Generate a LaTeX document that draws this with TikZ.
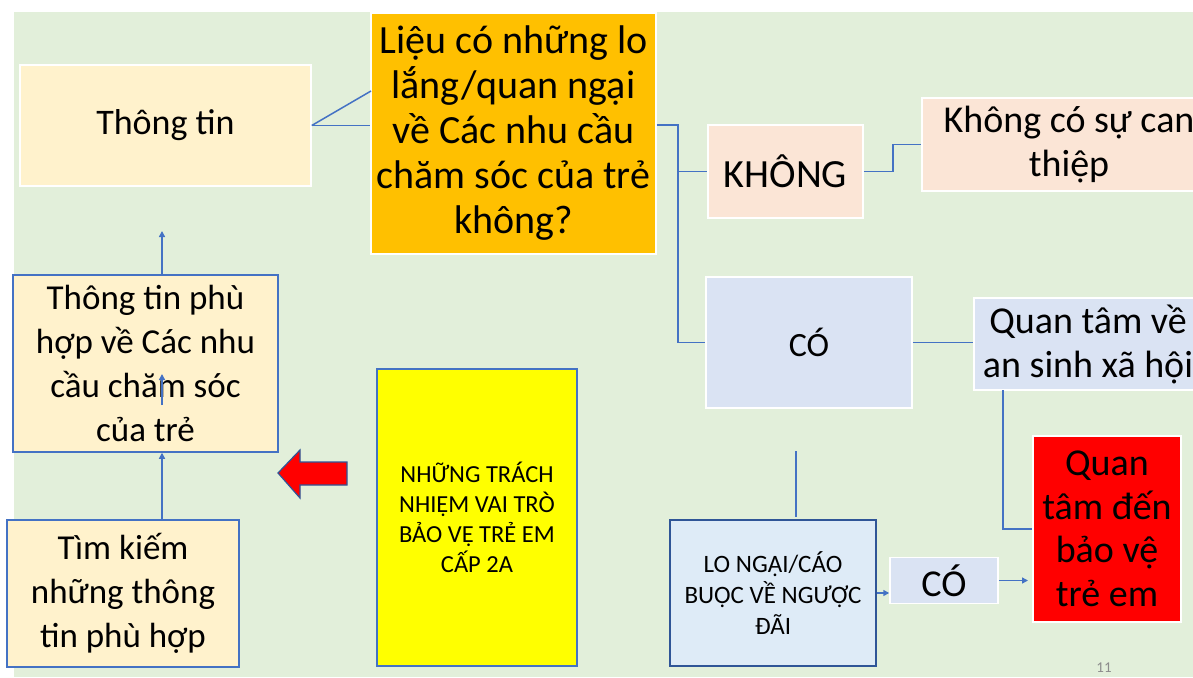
\documentclass[tikz,border=0pt]{standalone}
\usepackage{fontspec}
\setmainfont{Carlito}
\usetikzlibrary{arrows.meta}
\definecolor{bggreen}{HTML}{E2EFDA}
\definecolor{cream}{HTML}{FFF2CC}
\definecolor{orangeb}{HTML}{FFC000}
\definecolor{peach}{HTML}{FBE5D6}
\definecolor{lblue}{HTML}{DAE3F3}
\definecolor{lblue2}{HTML}{DEEBF7}
\definecolor{connblue}{HTML}{4472C4}
\definecolor{darkblue}{HTML}{2F5597}
\definecolor{pagegray}{HTML}{8C8C8C}
\definecolor{pureyellow}{HTML}{FFFF00}
\begin{document}
\begin{tikzpicture}[x=1pt,y=-1pt,
  box/.style={rectangle, inner sep=0pt, align=center, draw=white, line width=1.5pt, text=black},
  bluebox/.style={box, draw=connblue},
  conn/.style={draw=connblue, line width=1.5pt},
  arr/.style={conn, -{Triangle[length=6pt,width=6pt]}},
  big/.style={font={\fontsize{40}{45}\selectfont}},
  mid/.style={font={\fontsize{36}{44}\selectfont}}]
\useasboundingbox (0,0) rectangle (1193,677);
\clip (0,0) rectangle (1193,677);
\fill[bggreen] (14,12) rectangle (1193,677);

% nodes
\node[box, fill=cream, minimum width=291pt, minimum height=121pt, mid] (thongtin) at (165.5,125.5) {Thông tin};
\node[box, fill=orangeb, minimum width=285pt, minimum height=241pt, big] (orange) at (513.5,133.5) {Liệu có những lo\\lắng/quan ngại\\về Các nhu cầu\\chăm sóc của trẻ\\không?};
\node[box, fill=peach, minimum width=155pt, minimum height=93pt, big] (khong) at (785.5,171.5) {KHÔNG};
\node[box, fill=peach, minimum width=294pt, minimum height=93pt, font={\fontsize{38}{44}\selectfont}] (khongco) at (1069,144.5) {Không có sự can\\thiệp};
\node[box, fill=lblue, minimum width=206pt, minimum height=131pt, font={\fontsize{34}{40}\selectfont}] (co) at (809,342.5) {CÓ};
\node[box, fill=lblue, minimum width=228pt, minimum height=92pt, font={\fontsize{38}{44}\selectfont}] (quantam) at (1088,344) {Quan tâm về\\an sinh xã hội};
\node[box, fill=red, minimum width=148pt, minimum height=186pt, font={\fontsize{38}{43.5}\selectfont}] (redbox) at (1107,529) {Quan\\tâm đến\\bảo vệ\\trẻ em};
\node[box, draw=darkblue, fill=lblue2, minimum width=206pt, minimum height=146pt, font={\fontsize{25}{31}\selectfont}] (longai) at (773,593) {LO NGẠI/CÁO\\BUỘC VỀ NGƯỢC\\ĐÃI};
\node[box, fill=lblue, minimum width=108pt, minimum height=46pt, font={\fontsize{38}{44}\selectfont}] (smallco) at (944,580.5) {CÓ};
\node[bluebox, fill=pureyellow, minimum width=200pt, minimum height=297pt, font={\fontsize{24.5}{30}\selectfont}] (yellowbox) at (477,517.5) {NHỮNG TRÁCH\\NHIỆM VAI TRÒ\\BẢO VỆ TRẺ EM\\CẤP 2A};
\node[bluebox, fill=cream, minimum width=265pt, minimum height=177pt, font={\fontsize{35}{44}\selectfont}] (phuhop) at (145.5,363.5) {Thông tin phù\\hợp về Các nhu\\cầu chăm sóc\\của trẻ};
\node[bluebox, fill=cream, minimum width=232pt, minimum height=147pt, font={\fontsize{35}{44}\selectfont}] (timkiem) at (123,593.5) {Tìm kiếm\\những thông\\tin phù hợp};
\node[text=pagegray, font={\fontsize{15}{17}\selectfont}] (page) at (1104,668) {11};

% connectors
\coordinate (o1) at (371,91);
\draw[conn] (thongtin.east) -- (o1);
\draw[conn] (thongtin.east) -- (orange.west |- thongtin.east);
\coordinate (j) at (678,125);
\draw[conn] (orange.east |- j) -- (j) |- (khong.west);
\draw[conn] (j) |- (co.west);
\coordinate (k) at (893,171.5);
\draw[conn] (khong.east) -- (k) |- (khongco.west);
\draw[conn] (co.east) -- (quantam.west |- co.east);
\coordinate (q) at (1003,390);
\draw[conn] (q) |- (redbox.west);
\coordinate (f1) at (796,451);
\coordinate (f2) at (796,517);
\draw[conn] (f1) -- (f2);
\draw[arr] (longai.east) -- (smallco.west |- longai.east);
\coordinate (r1) at (1028,580.5);
\draw[arr] (smallco.east) -- (r1);
\coordinate (a1) at (162,231);
\draw[arr] (phuhop.north -| a1) -- (a1);
\draw[arr] (timkiem.north -| a1) -- (phuhop.south -| a1);
\coordinate (s1) at (162,405);
\coordinate (s2) at (162,374);
\draw[arr] (s1) -- (s2);

% red block arrow
\draw[fill=red, draw=darkblue, line width=1.2pt, line join=miter]
  (278,473) -- (300,450) -- (300,462) -- (347,462) -- (347,485) -- (300,485) -- (300,498) -- cycle;
\end{tikzpicture}
\end{document}
